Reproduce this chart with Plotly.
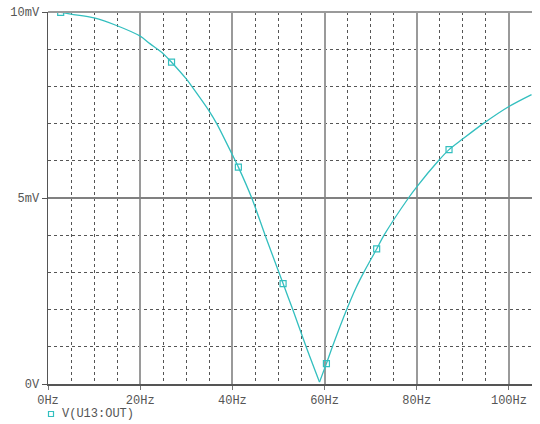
import plotly.graph_objects as go

# Frequency (Hz) and output voltage (mV)
freq_hz = [1.0, 2.75, 5, 10, 15, 20, 22.1, 25, 26.8, 30, 31.2, 35, 36.6, 40, 41.3,
           44.2, 47.1, 50.1, 51.0, 53.1, 56.0, 58.9, 60.4, 61.7, 64.8, 66.8, 68.5,
           71.3, 72.9, 78.2, 80, 84.7, 87.0, 90, 94.4, 100, 104.9]
v_out_mv = [10.0, 9.99, 9.94, 9.84, 9.63, 9.35, 9.15, 8.88, 8.65, 8.2, 8.0, 7.33, 7.0, 6.16, 5.83,
            5.0, 4.0, 3.0, 2.70, 2.0, 1.0, 0.05, 0.55, 1.0, 2.0, 2.58, 3.0,
            3.63, 4.0, 5.0, 5.30, 6.0, 6.30, 6.59, 7.0, 7.46, 7.78]

# Marker positions drawn on the trace
marker_hz = [2.75, 26.8, 41.3, 51.0, 60.4, 71.3, 87.0]
marker_mv = [9.99, 8.65, 5.83, 2.70, 0.55, 3.63, 6.30]

x_tick_vals = [0, 20, 40, 60, 80, 100]
x_tick_text = ["0Hz", "20Hz", "40Hz", "60Hz", "80Hz", "100Hz"]
y_tick_vals = [0, 5, 10]
y_tick_text = ["0V", "5mV", "10mV"]
series_name = "V(U13:OUT)"

TRACE = "#33BFBF"
FONT = dict(family="Courier New, Liberation Mono, monospace", size=12, color="#555555")

# split at the notch so each branch can be smoothed while the notch stays sharp
i_min = v_out_mv.index(min(v_out_mv))
branches = [(freq_hz[:i_min + 1], v_out_mv[:i_min + 1]),
            (freq_hz[i_min:], v_out_mv[i_min:])]

fig = go.Figure()
for bx, by in branches:
    fig.add_trace(go.Scatter(x=bx, y=by, mode="lines",
                             line=dict(color=TRACE, width=1.3, shape="spline", smoothing=0.8),
                             showlegend=False, hoverinfo="skip"))
fig.add_trace(go.Scatter(x=marker_hz, y=marker_mv, mode="markers", name=series_name,
                         marker=dict(symbol="square-open", size=6, color=TRACE,
                                     line=dict(width=1.2, color=TRACE)),
                         showlegend=False))

W, H = 540, 424
L, R, T, B = 48, 8, 12, 40
pw, ph = W - L - R, H - T - B

fig.update_layout(
    width=W, height=H,
    margin=dict(l=L, r=R, t=T, b=B, pad=0),
    paper_bgcolor="white", plot_bgcolor="white",
    font=FONT,
    xaxis=dict(range=[0, 105], tickvals=x_tick_vals, ticktext=x_tick_text,
               showgrid=True, gridcolor="#9a9a9a", gridwidth=2,
               showline=True, linecolor="#555555", linewidth=1.5,
               ticks="outside", ticklen=4, tickcolor="#777777", tickwidth=1,
               zeroline=False, fixedrange=True, automargin=False,
               minor=dict(tick0=0, dtick=5, showgrid=True, gridcolor="#555555",
                          gridwidth=1, griddash="3px,3px", ticks="")),
    yaxis=dict(range=[0, 10], tickvals=y_tick_vals, ticktext=y_tick_text,
               showgrid=True, gridcolor="#808080", gridwidth=2,
               showline=True, linecolor="#555555", linewidth=1.5,
               ticks="outside", ticklen=5, tickcolor="#555555", tickwidth=1,
               zeroline=False, fixedrange=True, automargin=False,
               minor=dict(tick0=0, dtick=1, showgrid=True, gridcolor="#555555",
                          gridwidth=1, griddash="3px,3px", ticks="")),
)

# top border
fig.add_shape(type="line", xref="paper", yref="paper", x0=0, x1=1, y0=1, y1=1,
              line=dict(color="#9a9a9a", width=2))

# legend (custom, placed like the reference; args are page pixels)
def px_x(p):
    return (p - L) / pw

def px_y(p):
    return (H - B - p) / ph

fig.add_shape(type="rect", xref="paper", yref="paper",
              x0=px_x(48.5), x1=px_x(53.5), y0=px_y(416.5), y1=px_y(411.5),
              line=dict(color=TRACE, width=1.2), fillcolor="rgba(0,0,0,0)")
fig.add_annotation(text=series_name, xref="paper", yref="paper",
                   x=px_x(60), y=px_y(414), xanchor="left", yanchor="middle",
                   showarrow=False, font=FONT)

# remove the default page margin so the figure sits at the window's top-left corner
fig.write_html("out.html",
               config={"displayModeBar": False, "staticPlot": True},
               post_script="document.body.style.margin='0';document.body.style.overflow='hidden';")
